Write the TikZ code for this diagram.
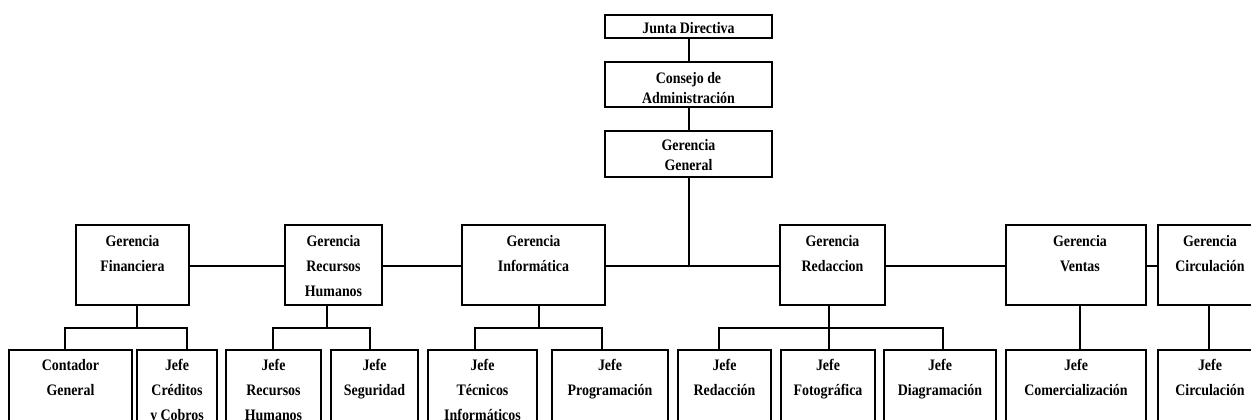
\documentclass[tikz,border=0pt]{standalone}
\usepackage{fontspec}
\setmainfont{Liberation Serif}[FakeStretch=0.87]
\newcommand\tst{\rule{0pt}{13pt}}
\newcommand\obox[5]{%
  \pgfmathsetmacro\oboxw{#4-#2}%
  \pgfmathsetmacro\oboxh{#5-#3}%
  \node[box, minimum width=\oboxw pt, minimum height=\oboxh pt] (#1) at (#2,#3) {};}
\tikzset{
  box/.style={draw, line width=1.8pt, inner sep=0pt, outer sep=0pt, anchor=north west},
  txt/.style={anchor=north, align=center, inner sep=0pt, font=\bfseries\fontsize{16}{25}\selectfont},
  txtt/.style={txt, font=\bfseries\fontsize{16}{20}\selectfont},
  con/.style={line width=1.8pt},
}
\begin{document}
\begin{tikzpicture}[x=1pt,y=-1pt]
\useasboundingbox (0,0) rectangle (1251,420);
\fill[white] (0,0) rectangle (1251,420);
\clip (0,0) rectangle (1251,420);
% top chain
\obox{jd}{605}{15}{772}{38}
\obox{ca}{605}{62}{772}{107}
\obox{gg}{605}{131}{772}{177}
% managers
\obox{gf}{76}{225}{189}{305}
\obox{grh}{285}{225}{382}{305}
\obox{gi}{462}{225}{605}{305}
\obox{gr}{780}{225}{885}{305}
\obox{gv}{1006}{225}{1146}{305}
\obox{gc}{1158}{225}{1262}{305}
% chiefs
\obox{cg}{9}{350}{132}{432}
\obox{jcc}{137}{350}{217}{432}
\obox{jrh}{226}{350}{321}{432}
\obox{js}{331}{350}{418}{432}
\obox{jt}{428}{350}{537}{432}
\obox{jp}{552}{350}{668}{432}
\obox{jr}{678}{350}{771}{432}
\obox{jf}{781}{350}{875}{432}
\obox{jdg}{884}{350}{996}{432}
\obox{jcm}{1006}{350}{1146}{432}
\obox{jci}{1158}{350}{1262}{432}
% texts
\node[txtt, yshift=-5pt] (jd-t) at (jd.north) {\tst Junta Directiva};
\node[txtt, yshift=-8pt] (ca-t) at (ca.north) {\tst Consejo de\\Administración};
\node[txtt, yshift=-6pt] (gg-t) at (gg.north) {\tst Gerencia\\General};
\node[txt, yshift=-8pt] (gf-t) at (gf.north) {\tst Gerencia\\Financiera};
\node[txt, yshift=-8pt] (grh-t) at (grh.north) {\tst Gerencia\\Recursos\\Humanos};
\node[txt, yshift=-8pt] (gi-t) at (gi.north) {\tst Gerencia\\Informática};
\node[txt, yshift=-8pt] (gr-t) at (gr.north) {\tst Gerencia\\Redaccion};
\node[txt, yshift=-8pt] (gv-t) at ([xshift=4pt]gv.north) {\tst Gerencia\\Ventas};
\node[txt, yshift=-8pt] (gc-t) at (gc.north) {\tst Gerencia\\Circulación};
\node[txt, yshift=-7pt] (cg-t) at (cg.north) {\tst Contador\\General};
\node[txt, yshift=-7pt] (jcc-t) at (jcc.north) {\tst Jefe\\Créditos\\y Cobros};
\node[txt, yshift=-7pt] (jrh-t) at (jrh.north) {\tst Jefe\\Recursos\\Humanos};
\node[txt, yshift=-7pt] (js-t) at (js.north) {\tst Jefe\\Seguridad};
\node[txt, yshift=-7pt] (jt-t) at (jt.north) {\tst Jefe\\Técnicos\\Informáticos};
\node[txt, yshift=-7pt] (jp-t) at (jp.north) {\tst Jefe\\Programación};
\node[txt, yshift=-7pt] (jr-t) at (jr.north) {\tst Jefe\\Redacción};
\node[txt, yshift=-7pt] (jf-t) at (jf.north) {\tst Jefe\\Fotográfica};
\node[txt, yshift=-7pt] (jdg-t) at (jdg.north) {\tst Jefe\\Diagramación};
\node[txt, yshift=-7pt] (jcm-t) at (jcm.north) {\tst Jefe\\Comercialización};
\node[txt, yshift=-7pt] (jci-t) at (jci.north) {\tst Jefe\\Circulación};
% connectors: top chain
\draw[con] ([xshift=0.5pt]jd.south) -- ([xshift=0.5pt]ca.north);
\draw[con] ([xshift=0.5pt]ca.south) -- ([xshift=0.5pt]gg.north);
\coordinate (hub) at (689,266);
\draw[con] (gg.south -| hub) -- (hub);
% manager row line
\draw[con] ([yshift=-1pt]gf.east) -- ([yshift=-1pt]grh.west);
\draw[con] ([yshift=-1pt]grh.east) -- ([yshift=-1pt]gi.west);
\draw[con] ([yshift=-1pt]gi.east) -- ([yshift=-1pt]gr.west);
\draw[con] ([yshift=-1pt]gr.east) -- ([yshift=-1pt]gv.west);
\draw[con] ([yshift=-1pt]gv.east) -- ([yshift=-1pt]gc.west);
% Financiera
\coordinate (bf) at (137,328);
\draw[con] (gf.south -| bf) -- (bf);
\draw[con] ([xshift=-5.5pt]cg.north) |- (bf) -| ([xshift=10pt]jcc.north);
% Recursos Humanos
\coordinate (brh) at (327,328);
\draw[con] (grh.south -| brh) -- (brh);
\draw[con] ([xshift=-0.5pt]jrh.north) |- (brh) -| ([xshift=-4.5pt]js.north);
% Informatica
\coordinate (bi) at (539,328);
\draw[con] (gi.south -| bi) -- (bi);
\draw[con] ([xshift=-7.5pt]jt.north) |- (bi) -| ([xshift=-8pt]jp.north);
% Redaccion
\coordinate (br) at (829,328);
\draw[con] (gr.south -| br) -- (jf.north -| br);
\draw[con] ([xshift=-5.5pt]jr.north) |- (br) -| ([xshift=3pt]jdg.north);
% Ventas, Circulacion
\draw[con] ([xshift=4pt]gv.south) -- ([xshift=4pt]jcm.south |- jcm.north);
\draw[con] ([xshift=-1pt]gc.south) -- ([xshift=-1pt]jci.north);
\end{tikzpicture}
\end{document}
